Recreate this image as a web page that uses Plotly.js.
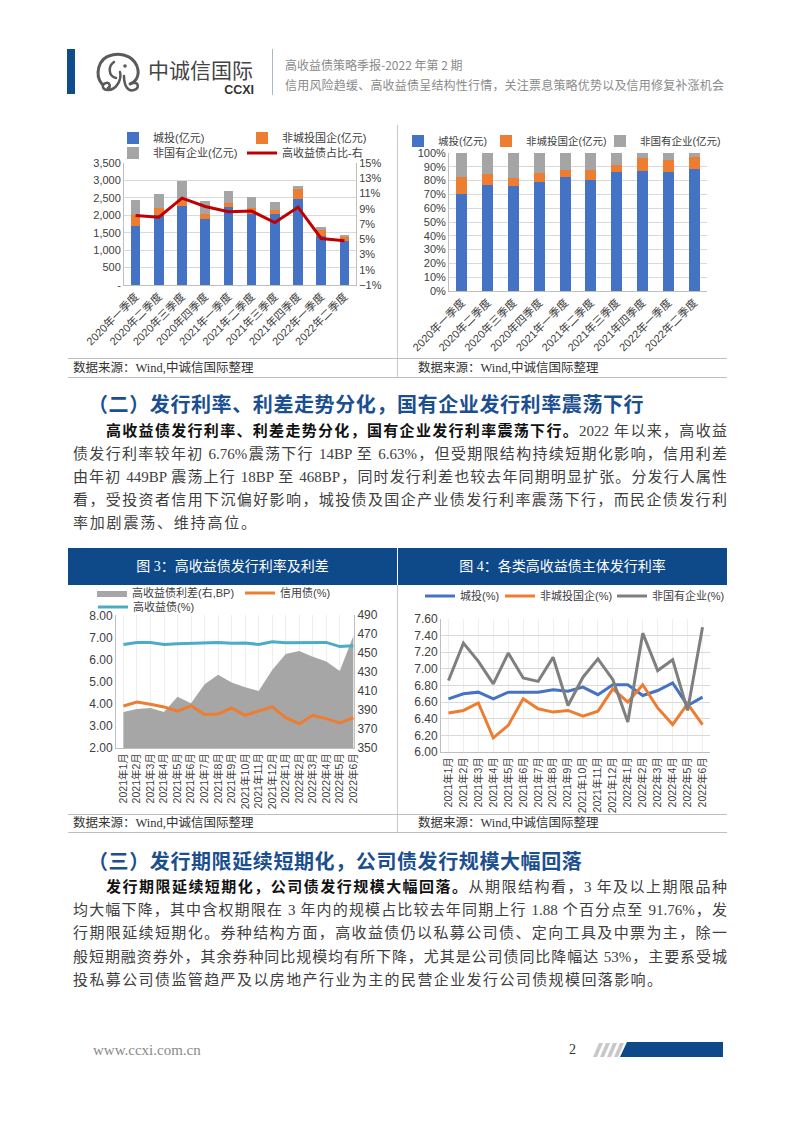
<!DOCTYPE html>
<html><head><meta charset="utf-8">
<script src="https://cdn.plot.ly/plotly-3.0.1.min.js"></script>
<style>
body{margin:0;width:802px;height:1133px;position:relative;background:#fff;overflow:hidden;font-family:"Liberation Serif","Noto Sans CJK SC",serif;}
.abs{position:absolute;}
.ln{position:absolute;height:20px;line-height:20px;font-size:15px;color:#404040;text-align:justify;text-align-last:justify;}
.ln b{color:#111;font-weight:700;}
.h2{position:absolute;left:88px;font-size:20px;font-weight:700;color:#1b4f8f;font-family:"Noto Sans CJK SC",sans-serif;letter-spacing:0.6px;line-height:26px;height:26px;}
.src{position:absolute;font-size:12.5px;color:#333;line-height:16px;}
.hl{position:absolute;height:1px;background:#bfbfbf;left:68px;width:659px;}
.vl{position:absolute;width:1px;background:#c9c9c9;left:397px;}
.cap{position:absolute;top:548px;height:37px;line-height:37px;background:#0e4a8a;color:#fff;font-size:14px;text-align:center;}
.chart{position:absolute;}
</style></head>
<body>
<!-- header -->
<div class="abs" style="left:67px;top:49px;width:8px;height:45px;background:#0f4c8a;"></div>
<svg class="abs" style="left:94px;top:50px" width="52" height="46" viewBox="0 0 52 46">
  <path d="M8 34 C1 26,3 8,18 5 C30 2,42 8,44 20 C45 28,40 33,36 34" stroke="#5a5a5a" stroke-width="3" fill="none" stroke-linecap="round"/>
  <path d="M20 12 C14 16,14 26,22 28" stroke="#5a5a5a" stroke-width="2.5" fill="none" stroke-linecap="round"/>
  <path d="M26 22 C28 30,22 40,14 40 C8 40,7 34,12 33 C16 32,17 37,14 38" stroke="#5a5a5a" stroke-width="2.5" fill="none" stroke-linecap="round"/>
  <path d="M30 26 C30 36,34 42,40 40 C46 38,44 32,40 33" stroke="#5a5a5a" stroke-width="2.5" fill="none" stroke-linecap="round"/>
  <circle cx="31" cy="16" r="1.8" fill="#5a5a5a"/>
</svg>
<div class="abs" style="left:148px;top:58px;font-size:21px;line-height:22px;height:22px;color:#444;font-family:'Noto Sans CJK SC',sans-serif;">中诚信国际</div>
<div class="abs" style="left:215px;top:84px;width:39px;text-align:right;font-size:12.5px;line-height:12px;height:12px;font-weight:700;color:#333;font-family:'Liberation Sans',sans-serif;">CCXI</div>
<div class="abs" style="left:272px;top:49px;width:1px;height:46px;background:#a9b9cc;"></div>
<div class="abs" style="left:285px;top:57px;font-size:12px;line-height:16px;color:#8a8a8a;font-family:'Noto Sans CJK SC',sans-serif;">高收益债策略季报-2022 年第 2 期</div>
<div class="abs" style="left:285px;top:77px;font-size:12px;line-height:16px;color:#8a8a8a;font-family:'Noto Sans CJK SC',sans-serif;letter-spacing:0.2px;">信用风险趋缓、高收益债呈结构性行情，关注票息策略优势以及信用修复补涨机会</div>

<!-- chart row 1 -->
<div id="c1" class="chart" style="left:70px;top:125px;width:320px;height:233px;"></div>
<div id="c2" class="chart" style="left:398px;top:125px;width:327px;height:233px;"></div>
<div class="vl" style="top:125px;height:253px;"></div>
<div class="hl" style="top:358px;"></div>
<div class="hl" style="top:377px;"></div>
<div class="src" style="left:73px;top:360px;">数据来源：Wind,中诚信国际整理</div>
<div class="src" style="left:418px;top:360px;">数据来源：Wind,中诚信国际整理</div>

<div class="h2" style="top:391px;">（二）发行利率、利差走势分化，国有企业发行利率震荡下行</div>
<div class="ln" style="left:106px;width:621px;top:421px;"><b>高收益债发行利率、利差走势分化，国有企业发行利率震荡下行。</b>2022 年以来，高收益</div>
<div class="ln" style="left:73px;width:654px;top:444px;">债发行利率较年初 6.76%震荡下行 14BP 至 6.63%，但受期限结构持续短期化影响，信用利差</div>
<div class="ln" style="left:73px;width:654px;top:467px;">由年初 449BP 震荡上行 18BP 至 468BP，同时发行利差也较去年同期明显扩张。分发行人属性</div>
<div class="ln" style="left:73px;width:654px;top:490px;">看，受投资者信用下沉偏好影响，城投债及国企产业债发行利率震荡下行，而民企债发行利</div>
<div class="ln" style="left:73px;top:513px;text-align:left;text-align-last:left;letter-spacing:1.8px;">率加剧震荡、维持高位。</div>

<!-- chart row 2 -->
<div class="cap" style="left:68px;width:329px;">图 3：高收益债发行利率及利差</div>
<div class="cap" style="left:398px;width:329px;">图 4：各类高收益债主体发行利率</div>
<div id="c3" class="chart" style="left:70px;top:585px;width:326px;height:229px;"></div>
<div id="c4" class="chart" style="left:398px;top:585px;width:329px;height:229px;"></div>
<div class="vl" style="top:585px;height:248px;"></div>
<div class="hl" style="top:814px;"></div>
<div class="hl" style="top:832px;"></div>
<div class="src" style="left:73px;top:815px;">数据来源：Wind,中诚信国际整理</div>
<div class="src" style="left:418px;top:815px;">数据来源：Wind,中诚信国际整理</div>

<div class="h2" style="top:848px;">（三）发行期限延续短期化，公司债发行规模大幅回落</div>
<div class="ln" style="left:106px;width:621px;top:877px;"><b>发行期限延续短期化，公司债发行规模大幅回落。</b>从期限结构看，3 年及以上期限品种</div>
<div class="ln" style="left:73px;width:654px;top:900px;">均大幅下降，其中含权期限在 3 年内的规模占比较去年同期上行 1.88 个百分点至 91.76%，发</div>
<div class="ln" style="left:73px;width:654px;top:923px;">行期限延续短期化。券种结构方面，高收益债仍以私募公司债、定向工具及中票为主，除一</div>
<div class="ln" style="left:73px;width:654px;top:947px;">般短期融资券外，其余券种同比规模均有所下降，尤其是公司债同比降幅达 53%，主要系受城</div>
<div class="ln" style="left:73px;top:970px;text-align:left;text-align-last:left;letter-spacing:1.4px;">投私募公司债监管趋严及以房地产行业为主的民营企业发行公司债规模回落影响。</div>

<!-- footer -->
<div class="abs" style="left:93px;top:1041px;font-size:15px;line-height:18px;color:#8a8a8a;font-family:'Liberation Serif',serif;">www.ccxi.com.cn</div>
<div class="abs" style="left:569px;top:1041px;font-size:14px;line-height:18px;color:#333;font-family:'Liberation Serif',serif;">2</div>
<svg class="abs" style="left:585px;top:1040px" width="140" height="20">
  <polygon points="8,17 12,17 18,3 14,3" fill="#c8c8c8"/>
  <polygon points="15,17 19,17 25,3 21,3" fill="#c8c8c8"/>
  <polygon points="22,17 26,17 32,3 28,3" fill="#c8c8c8"/>
  <polygon points="29,17 33,17 39,3 35,3" fill="#c8c8c8"/>
  <polygon points="35,17 138,17 138,2 42,2" fill="#0e4a8a"/>
</svg>

<script>
// ---------------- data ----------------
const quarters = ['2020年一季度','2020年二季度','2020年三季度','2020年四季度','2021年一季度','2021年二季度','2021年三季度','2021年四季度','2022年一季度','2022年二季度'];
const chengtou = [1700, 2000, 2265, 1900, 2225, 2030, 2045, 2465, 1420, 1260];
const feiChengtouGuoqi = [300, 200, 175, 150, 135, 175, 120, 275, 150, 130];
const feiGuoyou = [430, 400, 540, 355, 335, 315, 215, 95, 80, 40];
const hyShare = [8.1, 7.9, 10.4, 9.3, 8.6, 8.7, 7.2, 9.2, 5.1, 4.8];
const amountTickVals = [0, 500, 1000, 1500, 2000, 2500, 3000, 3500];
const amountTickText = ['-', '500', '1,000', '1,500', '2,000', '2,500', '3,000', '3,500'];

const months = ['2021年1月','2021年2月','2021年3月','2021年4月','2021年5月','2021年6月','2021年7月','2021年8月','2021年9月','2021年10月','2021年11月','2021年12月','2022年1月','2022年2月','2022年3月','2022年4月','2022年5月','2022年6月'];
const hySpread = [388, 391, 392, 388, 404, 397, 417, 427, 419, 414, 410, 432, 449, 452, 446, 441, 431, 468];
const creditBondYield = [3.90, 4.08, 3.98, 3.86, 3.67, 3.92, 3.52, 3.54, 3.81, 3.48, 3.67, 3.86, 3.37, 3.10, 3.48, 3.33, 3.13, 3.37];
const hyYield = [6.68, 6.77, 6.77, 6.68, 6.72, 6.75, 6.75, 6.78, 6.74, 6.75, 6.69, 6.81, 6.76, 6.77, 6.77, 6.78, 6.59, 6.63];
const yieldTickVals = [2, 3, 4, 5, 6, 7, 8];
const yieldTickText = ['2.00', '3.00', '4.00', '5.00', '6.00', '7.00', '8.00'];

const rateChengtou = [6.64, 6.70, 6.72, 6.64, 6.72, 6.72, 6.72, 6.75, 6.73, 6.78, 6.69, 6.81, 6.81, 6.68, 6.74, 6.83, 6.56, 6.66];
const rateFeiChengtouGuoqi = [6.47, 6.50, 6.59, 6.17, 6.32, 6.64, 6.52, 6.48, 6.50, 6.43, 6.49, 6.76, 6.60, 6.81, 6.53, 6.33, 6.58, 6.33];
const rateFeiGuoyou = [6.86, 7.31, 7.09, 6.82, 7.19, 6.89, 6.85, 7.14, 6.56, 6.90, 7.12, 6.87, 6.36, 7.43, 6.98, 7.11, 6.50, 7.50];

// ---------------- helpers ----------------
const F = 'Liberation Sans, Noto Sans CJK SC, sans-serif';
const BLUE = '#4472c4', ORANGE = '#ed7d31', GRAY = '#a5a5a5';
const cfg = {staticPlot: true, displayModeBar: false};
function lg(px, py, m, W, H, fs) {
  const w = W - m.l - m.r, h = H - m.t - m.b;
  return {x: (px - m.l) / w, y: 1 - (py - m.t) / h, xanchor: 'left', yanchor: 'middle',
    orientation: 'h', bgcolor: 'rgba(0,0,0,0)', borderwidth: 0, itemwidth: 30,
    font: {size: fs || 11, color: '#404040', family: F}};
}
function base(W, H, m) {
  return {width: W, height: H, margin: Object.assign({autoexpand: false, pad: 0}, m),
    paper_bgcolor: 'rgba(0,0,0,0)', plot_bgcolor: 'rgba(0,0,0,0)',
    font: {family: F, size: 11, color: '#404040'}, showlegend: true};
}

// ---------------- chart 1 ----------------
(function () {
  const W = 320, H = 233, m = {l: 54, r: 34, t: 38, b: 73};
  const traces = [
    {type: 'bar', name: '城投(亿元)', x: quarters, y: chengtou, marker: {color: BLUE}, legend: 'legend'},
    {type: 'bar', name: '非城投国企(亿元)', x: quarters, y: feiChengtouGuoqi, marker: {color: ORANGE}, legend: 'legend2'},
    {type: 'bar', name: '非国有企业(亿元)', x: quarters, y: feiGuoyou, marker: {color: GRAY}, legend: 'legend3'},
    {type: 'scatter', mode: 'lines', name: '高收益债占比-右', x: quarters, y: hyShare, yaxis: 'y2',
      line: {color: '#c00000', width: 3}, legend: 'legend4'}
  ];
  const layout = Object.assign(base(W, H, m), {
    barmode: 'stack', bargap: 0.58,
    xaxis: {type: 'category', tickangle: -45, showline: true, linecolor: '#bfbfbf', ticks: '', tickfont: {size: 11}},
    yaxis: {range: [0, 3500], tickvals: amountTickVals, ticktext: amountTickText, showgrid: true, gridcolor: '#d9d9d9',
      showline: true, linecolor: '#bfbfbf', zeroline: false, ticks: '', tickfont: {size: 11}},
    yaxis2: {overlaying: 'y', side: 'right', range: [-1, 15], tick0: -1, dtick: 2, ticksuffix: '%', showgrid: false,
      showline: true, linecolor: '#bfbfbf', zeroline: false, ticks: '', tickfont: {size: 11}},
    legend: lg(43, 13, m, W, H), legend2: lg(172, 13, m, W, H),
    legend3: lg(43, 28, m, W, H), legend4: lg(172, 28, m, W, H)
  });
  Plotly.newPlot('c1', traces, layout, cfg);
})();

// ---------------- chart 2 ----------------
(function () {
  const W = 327, H = 233, m = {l: 51, r: 18, t: 28, b: 67};
  const traces = [
    {type: 'bar', name: '城投(亿元)', x: quarters, y: chengtou, marker: {color: BLUE}, legend: 'legend'},
    {type: 'bar', name: '非城投国企(亿元)', x: quarters, y: feiChengtouGuoqi, marker: {color: ORANGE}, legend: 'legend2'},
    {type: 'bar', name: '非国有企业(亿元)', x: quarters, y: feiGuoyou, marker: {color: GRAY}, legend: 'legend3'}
  ];
  const layout = Object.assign(base(W, H, m), {
    barmode: 'stack', barnorm: 'percent', bargap: 0.57,
    xaxis: {type: 'category', tickangle: -45, showline: true, linecolor: '#bfbfbf', ticks: '', tickfont: {size: 11}},
    yaxis: {range: [0, 100], dtick: 10, ticksuffix: '%', showgrid: true, gridcolor: '#d9d9d9',
      showline: true, linecolor: '#bfbfbf', zeroline: false, ticks: '', tickfont: {size: 11}},
    legend: lg(0, 16, m, W, H, 10.5), legend2: lg(88, 16, m, W, H, 10.5), legend3: lg(202, 16, m, W, H, 10.5)
  });
  Plotly.newPlot('c2', traces, layout, cfg);
})();

// ---------------- chart 3 ----------------
(function () {
  const W = 326, H = 229, m = {l: 46, r: 42, t: 30, b: 66};
  const traces = [
    {type: 'scatter', mode: 'lines', name: '高收益债利差(右,BP)', x: months, y: hySpread, yaxis: 'y2',
      fill: 'tozeroy', fillcolor: '#a6a6a6', line: {width: 0, color: '#a6a6a6'}, legend: 'legend'},
    {type: 'scatter', mode: 'lines', name: '信用债(%)', x: months, y: creditBondYield, yaxis: 'y',
      line: {color: ORANGE, width: 3}, legend: 'legend2'},
    {type: 'scatter', mode: 'lines', name: '高收益债(%)', x: months, y: hyYield, yaxis: 'y',
      line: {color: '#4bacc6', width: 3}, legend: 'legend3'}
  ];
  const layout = Object.assign(base(W, H, m), {
    xaxis: {type: 'category', anchor: 'y2', range: [-0.55, 17.05], tickangle: -90, showline: true, linecolor: '#bfbfbf',
      ticks: '', tickfont: {size: 10.5}},
    yaxis2: {side: 'right', range: [350, 490.01], tick0: 350, dtick: 20, showgrid: false, showline: true, linecolor: '#bfbfbf',
      zeroline: false, ticks: '', tickfont: {size: 12}},
    yaxis: {overlaying: 'y2', side: 'left', anchor: 'x', range: [2, 8.02], tickmode: 'array', tickvals: yieldTickVals,
      ticktext: yieldTickText, showgrid: false, showline: true, linecolor: '#bfbfbf', zeroline: false, ticks: '',
      tickfont: {size: 12}},
    legend: lg(22, 8, m, W, H), legend2: lg(170, 8, m, W, H), legend3: lg(23, 22, m, W, H)
  });
  Plotly.newPlot('c3', traces, layout, cfg);
})();

// ---------------- chart 4 ----------------
(function () {
  const W = 329, H = 229, m = {l: 43, r: 17, t: 34, b: 62};
  const traces = [
    {type: 'scatter', mode: 'lines', name: '城投(%)', x: months, y: rateChengtou, line: {color: BLUE, width: 3}, legend: 'legend'},
    {type: 'scatter', mode: 'lines', name: '非城投国企(%)', x: months, y: rateFeiChengtouGuoqi, line: {color: ORANGE, width: 3}, legend: 'legend2'},
    {type: 'scatter', mode: 'lines', name: '非国有企业(%)', x: months, y: rateFeiGuoyou, line: {color: '#7f7f7f', width: 3}, legend: 'legend3'}
  ];
  const layout = Object.assign(base(W, H, m), {
    xaxis: {type: 'category', range: [-0.5, 17.5], tickangle: -90, showline: true, linecolor: '#bfbfbf',
      ticks: '', tickfont: {size: 10.5}},
    yaxis: {range: [6, 7.6001], dtick: 0.2, tickformat: '.2f', showgrid: true, gridcolor: '#d9d9d9',
      showline: true, linecolor: '#bfbfbf', zeroline: false, ticks: '', tickfont: {size: 12}},
    legend: lg(22, 11, m, W, H), legend2: lg(102, 11, m, W, H), legend3: lg(214, 11, m, W, H)
  });
  Plotly.newPlot('c4', traces, layout, cfg);
})();
</script>
</body></html>
